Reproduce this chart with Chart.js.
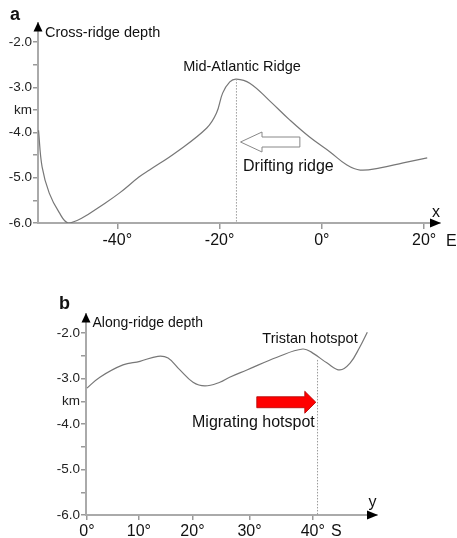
<!DOCTYPE html>
<html>
<head>
<meta charset="utf-8">
<script src="https://cdn.jsdelivr.net/npm/chart.js@4/dist/chart.umd.min.js"></script>
<style>
body { margin: 0; background: #fff; }
canvas { position: absolute; left: 0; }
#ca { top: 0; }
#cb { top: 270px; }
</style>
</head>
<body>
<canvas id="ca" width="457" height="270"></canvas>
<canvas id="cb" width="457" height="268"></canvas>
<script>
// panel a: cross-ridge profile (longitude, depth km)
const crossLon = [-55.4, -54.7, -53.3, -51.4, -49.6, -46.9, -42.9, -39.6, -35.7, -33.7, -28.4, -22.5, -20.6, -19.4, -18.0, -16.7, -14.1, -10.2, -6.3, -2.4, 1.6, 4.9, 7.5, 11.4, 15.9, 20.6];
const crossDepth = [-3.95, -4.76, -5.34, -5.76, -6.0, -5.89, -5.60, -5.34, -4.98, -4.83, -4.43, -3.90, -3.57, -3.13, -2.88, -2.82, -2.91, -3.30, -3.72, -4.10, -4.43, -4.72, -4.83, -4.78, -4.67, -4.56];

// panel b: along-ridge profile (latitude S, depth km)
const alongLat = [0, 2.5, 6.95, 10.2, 13.6, 15.5, 17.7, 20.1, 22.25, 24.9, 26.6, 29.55, 34.5, 38.5, 40.0, 42.1, 43.9, 45.3, 46.6, 47.6];
const alongDepth = [-3.21, -2.97, -2.70, -2.62, -2.51, -2.55, -2.81, -3.08, -3.16, -3.08, -2.97, -2.81, -2.53, -2.35, -2.44, -2.66, -2.81, -2.66, -2.31, -1.98];

const depthTicks = [-2, -2.5, -3, -3.5, -4, -4.5, -5, -5.5, -6];
const depthLabels = { '-2': '-2.0', '-3': '-3.0', '-3.5': 'km', '-4': '-4.0', '-5': '-5.0', '-6': '-6.0' };
const lonTicks = [-40, -20, 0, 20];
const latTicks = [0, 10, 20, 30, 40];

const ridgeLon = -16.7;
const hotspotLat = 40.7;

const FONT = '"Liberation Sans", Arial, sans-serif';

// latitude axis of panel b is Mercator-spaced
const merc = v => Math.log(Math.tan(Math.PI / 4 + v * Math.PI / 360));
class MercatorScale extends Chart.LinearScale {
    getPixelForValue(value) {
        const a = merc(this.min), b = merc(this.max);
        return this.getPixelForDecimal((merc(value) - a) / (b - a));
    }
    getValueForPixel(pixel) {
        const a = merc(this.min), b = merc(this.max);
        const m = a + this.getDecimalForPixel(pixel) * (b - a);
        return (2 * Math.atan(Math.exp(m)) - Math.PI / 2) * 180 / Math.PI;
    }
}
MercatorScale.id = 'mercator';
MercatorScale.defaults = Chart.LinearScale.defaults;
Chart.register(MercatorScale);

function depthAxis(max, width) {
    return {
        type: 'linear', min: -6, max: max,
        afterBuildTicks: s => { s.ticks = depthTicks.map(v => ({ value: v })); },
        afterFit: s => { s.width = width; },
        grid: { drawOnChartArea: false, color: '#999', tickLength: 5, lineWidth: 1.5 },
        border: { color: '#aaa', width: 2 },
        ticks: { autoSkip: false, padding: 1, color: '#222', font: { family: FONT, size: 13.5 },
                 callback: v => depthLabels[String(v)] ?? '' }
    };
}

function xAxis(type, min, max, ticks, height, tl, pad) {
    return {
        type: type, min: min, max: max,
        afterBuildTicks: s => { s.ticks = ticks.map(v => ({ value: v })); },
        afterFit: s => { s.height = height; },
        grid: { drawOnChartArea: false, color: '#999', tickLength: tl, lineWidth: 1.5 },
        border: { color: '#aaa', width: 2 },
        ticks: { autoSkip: false, maxRotation: 0, padding: pad, color: '#111', font: { family: FONT, size: 16 },
                 callback: v => v + '°' }
    };
}

function tri(ctx, pts) {
    ctx.beginPath();
    ctx.moveTo(pts[0][0], pts[0][1]);
    pts.slice(1).forEach(p => ctx.lineTo(p[0], p[1]));
    ctx.closePath();
    ctx.fill();
}

function text(ctx, s, x, y, size, align, weight) {
    ctx.font = (weight || 'normal') + ' ' + size + 'px ' + FONT;
    ctx.textAlign = align || 'left';
    ctx.textBaseline = 'alphabetic';
    ctx.fillStyle = '#111';
    ctx.fillText(s, x, y);
}

// block arrow: tail x0, tip x1, head base xh
function blockArrow(ctx, x0, x1, xh, yc, bh, hh) {
    ctx.beginPath();
    ctx.moveTo(x0, yc - bh);
    ctx.lineTo(xh, yc - bh);
    ctx.lineTo(xh, yc - hh);
    ctx.lineTo(x1, yc);
    ctx.lineTo(xh, yc + hh);
    ctx.lineTo(xh, yc + bh);
    ctx.lineTo(x0, yc + bh);
    ctx.closePath();
}

function axisArrows(ctx, a) {
    ctx.fillStyle = '#000';
    tri(ctx, [[a.left, a.top - 1], [a.left - 4.5, a.top + 8.5], [a.left + 4.5, a.top + 8.5]]);
    tri(ctx, [[a.right + 1, a.bottom], [a.right - 10, a.bottom - 4.5], [a.right - 10, a.bottom + 4.5]]);
}

const panelA = {
    id: 'panelA',
    afterDraw(chart) {
        const { ctx, chartArea: a, scales: { x, y } } = chart;
        ctx.save();
        axisArrows(ctx, a);

        const rx = x.getPixelForValue(ridgeLon);
        ctx.strokeStyle = '#999';
        ctx.lineWidth = 1;
        ctx.setLineDash([1.5, 1.5]);
        ctx.beginPath();
        ctx.moveTo(rx, y.getPixelForValue(Math.max(...crossDepth)));
        ctx.lineTo(rx, a.bottom);
        ctx.stroke();
        ctx.setLineDash([]);

        blockArrow(ctx, x.getPixelForValue(-4.3), x.getPixelForValue(-15.9), x.getPixelForValue(-11.7),
                   y.getPixelForValue(-4.21), 5, 10);
        ctx.fillStyle = '#fff';
        ctx.fill();
        ctx.strokeStyle = '#888';
        ctx.stroke();

        text(ctx, 'a', 10, 20, 18, 'left', 'bold');
        text(ctx, 'Cross-ridge depth', 45, 36.5, 14.5);
        text(ctx, 'Mid-Atlantic Ridge', 242, 71, 14.5, 'center');
        text(ctx, 'Drifting ridge', 243, 171, 16);
        text(ctx, 'x', 436, 216.5, 16, 'center');
        text(ctx, 'E', 446, 245.5, 16);
        ctx.restore();
    }
};

const panelB = {
    id: 'panelB',
    afterDraw(chart) {
        const { ctx, chartArea: a, scales: { x, y } } = chart;
        ctx.save();
        axisArrows(ctx, a);

        const hx = x.getPixelForValue(hotspotLat);
        ctx.strokeStyle = '#999';
        ctx.lineWidth = 1;
        ctx.setLineDash([1.5, 1.5]);
        ctx.beginPath();
        ctx.moveTo(hx, y.getPixelForValue(-2.59));
        ctx.lineTo(hx, a.bottom);
        ctx.stroke();
        ctx.setLineDash([]);

        blockArrow(ctx, x.getPixelForValue(31.2), x.getPixelForValue(40.45), x.getPixelForValue(38.8),
                   y.getPixelForValue(-3.52), 5.5, 11);
        ctx.fillStyle = '#ff0000';
        ctx.fill();
        ctx.strokeStyle = '#b00000';
        ctx.lineWidth = 0.8;
        ctx.stroke();

        text(ctx, 'b', 59, 39, 18, 'left', 'bold');
        text(ctx, 'Along-ridge depth', 92.5, 57, 14);
        text(ctx, 'Tristan hotspot', 310, 72.5, 14.5, 'center');
        text(ctx, 'Migrating hotspot', 192, 157, 16);
        text(ctx, 'y', 372.5, 236.5, 16, 'center');
        text(ctx, 'S', 331, 265.5, 16);
        ctx.restore();
    }
};

function lineData(xs, ys) {
    return {
        datasets: [{
            data: xs.map((v, i) => ({ x: v, y: ys[i] })),
            borderColor: '#777',
            borderWidth: 1.2,
            pointRadius: 0,
            fill: false,
            tension: 0.4
        }]
    };
}

const baseOptions = {
    responsive: false,
    animation: false,
    events: [],
    plugins: { legend: { display: false }, tooltip: { enabled: false } }
};

new Chart(document.getElementById('ca'), {
    type: 'line',
    data: lineData(crossLon, crossDepth),
    options: {
        ...baseOptions,
        layout: { padding: { top: 23, right: 17, left: 0, bottom: 0 } },
        scales: {
            x: xAxis('linear', -55.5, 23.1, lonTicks, 47, 6, 2),
            y: depthAxis(-1.58, 38)
        }
    },
    plugins: [panelA]
});

new Chart(document.getElementById('cb'), {
    type: 'line',
    data: lineData(alongLat, alongDepth),
    options: {
        ...baseOptions,
        layout: { padding: { top: 44, right: 80, left: 0, bottom: 0 } },
        scales: {
            x: xAxis('mercator', -0.19, 48.85, latTicks, 23, 5, 1.5),
            y: depthAxis(-1.58, 86)
        }
    },
    plugins: [panelB]
});
</script>
</body>
</html>
